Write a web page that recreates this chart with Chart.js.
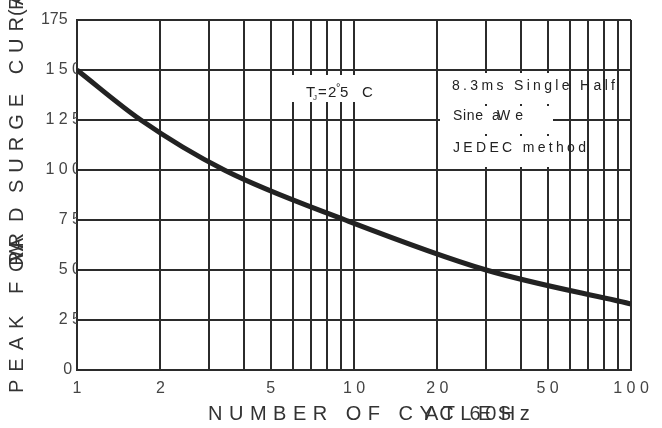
<!DOCTYPE html>
<html>
<head>
<meta charset="utf-8">
<script src="https://cdn.jsdelivr.net/npm/chart.js"></script>
<style>
html, body { margin: 0; padding: 0; background: #fff; }
#wrap { width: 662px; height: 428px; }
</style>
</head>
<body>
<div id="wrap"><canvas id="surgeChart" width="662" height="428"></canvas></div>
<script>
// cycles (x) and peak surge current (y) read where the curve crosses the grid
const cycles = [1, 1.7, 3.4, 9.3, 30, 100];
const surgeAmps = [150, 125, 100, 75, 50, 33];

// grid positions on the log axis and the ones that carry a label
const xGridValues = [1, 2, 3, 4, 5, 6, 7, 8, 9, 10, 20, 30, 40, 50, 60, 70, 80, 90, 100];
const xTickLabels = { 1: '1', 2: '2', 5: '5', 10: '1 0', 20: '2 0', 50: '5 0', 100: '1 0 0' };
const yTickValues = [0, 25, 50, 75, 100, 125, 150, 175];
const yTickLabels = ['0  ', '2 5', '5 0', '7 5', '1 0 0', '1 2 5', '1 5 0', '175   '];

const ink = '#2b2b2b';
const font = '"Liberation Sans", Arial, sans-serif';

// draw text char by char with a fixed extra gap
function gapText(ctx, text, x, y, gap) {
    for (const c of Array.from(text)) {
        ctx.fillText(c, x, y);
        x += ctx.measureText(c).width + gap;
    }
}

// draw text char by char so that it runs from x0 to x1
function fitText(ctx, text, x0, x1, y) {
    const chars = Array.from(text);
    let natural = 0;
    chars.forEach(c => natural += ctx.measureText(c).width);
    const gap = chars.length > 1 ? (x1 - x0 - natural) / (chars.length - 1) : 0;
    gapText(ctx, text, x0, y, gap);
}

const labelsPlugin = {
    id: 'labels',
    afterDraw(chart) {
        const ctx = chart.ctx;
        ctx.save();
        ctx.textBaseline = 'alphabetic';
        ctx.textAlign = 'left';

        // white patches behind the notes
        ctx.fillStyle = '#fff';
        ctx.fillRect(285, 75, 73, 27);
        ctx.fillRect(443, 73, 113, 31);
        ctx.fillRect(440, 106, 113, 28);
        ctx.fillRect(440, 136, 116, 31);

        ctx.fillStyle = '#222';
        // Tj note
        ctx.font = '15px ' + font;
        ctx.fillText('T', 306, 97);
        ctx.fillText('=', 318, 97);
        ctx.fillText('2', 328, 97);
        ctx.fillText('5', 340, 97);
        ctx.fillText('C', 362, 97);
        ctx.font = '8px ' + font;
        ctx.fillText('J', 313, 100);
        ctx.font = '11px ' + font;
        ctx.fillText('°', 336, 91);

        // test condition note
        ctx.font = '14px ' + font;
        fitText(ctx, '8.3ms Single Half', 452, 615, 90);
        fitText(ctx, 'Sine', 453, 483, 120);
        ctx.fillText('a', 492, 120);
        fitText(ctx, 'We', 497, 523, 120);
        fitText(ctx, 'JEDEC method', 453, 586, 152);

        // axis titles
        ctx.fillStyle = '#333';
        ctx.font = '20px ' + font;
        gapText(ctx, 'NUMBER OF CYCLES', 208, 420, 6.5);
        gapText(ctx, 'AT 60Hz', 425, 420, 4.5);

        ctx.translate(23, 0);
        ctx.rotate(-Math.PI / 2);
        gapText(ctx, 'PEAK F', -393, 0, 8);
        fitText(ctx, 'ORWAR', -272, -233, 0);
        ctx.fillText('D', -222, 0);
        gapText(ctx, 'SURGE CURRENT', -193, 0, 7);
        gapText(ctx, '(A)', -16, 0, 4);
        ctx.restore();
    }
};

const ctx = document.getElementById('surgeChart').getContext('2d');
const surgeChart = new Chart(ctx, {
    type: 'line',
    data: {
        datasets: [{
            data: cycles.map((c, i) => ({ x: c, y: surgeAmps[i] })),
            borderColor: '#222',
            borderWidth: 5,
            pointRadius: 0,
            cubicInterpolationMode: 'monotone',
            fill: false
        }]
    },
    options: {
        responsive: false,
        animation: false,
        devicePixelRatio: 1,
        layout: { padding: { top: 20, right: 31, left: 0, bottom: 0 } },
        plugins: { legend: { display: false }, tooltip: { enabled: false } },
        scales: {
            x: {
                type: 'logarithmic',
                min: 1,
                max: 100,
                afterBuildTicks: scale => { scale.ticks = xGridValues.map(v => ({ value: v })); },
                afterFit: scale => { scale.height = 58; },
                grid: { color: ink, lineWidth: 2, drawTicks: false },
                border: { color: ink, width: 2 },
                ticks: {
                    autoSkip: false,
                    maxRotation: 0,
                    padding: 9,
                    color: '#444',
                    font: { size: 16, family: font },
                    callback: value => xTickLabels[value] || ''
                }
            },
            y: {
                min: 0,
                max: 175,
                afterBuildTicks: scale => { scale.ticks = yTickValues.map(v => ({ value: v })); },
                afterFit: scale => { scale.width = 77; },
                grid: { color: ink, lineWidth: 2, drawTicks: false },
                border: { color: ink, width: 2 },
                ticks: {
                    padding: -4,
                    color: '#444',
                    font: { size: 16, family: font },
                    callback: value => yTickLabels[yTickValues.indexOf(value)]
                }
            }
        }
    },
    plugins: [labelsPlugin]
});
</script>
</body>
</html>
